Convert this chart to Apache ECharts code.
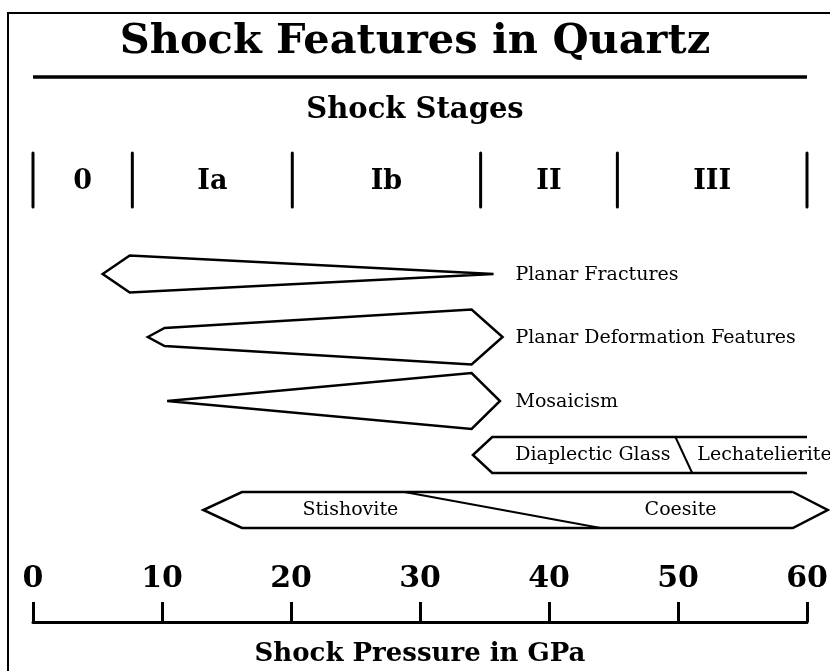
<!DOCTYPE html>
<html>
<head>
<meta charset="utf-8">
<script src="https://cdn.jsdelivr.net/npm/echarts@6/dist/echarts.min.js"></script>
<style>
  html, body { margin: 0; padding: 0; background: #fff; }
  #chart { width: 830px; height: 671px; }
</style>
</head>
<body>
<div id="chart"></div>
<script>
// pressure axis (GPa)
const pressureTicks = [0, 10, 20, 30, 40, 50, 60];

// shock stages and their boundaries (GPa)
const stageNames = ['0', 'Ia', 'Ib', 'II', 'III'];
const stageBounds = [0, 7.7, 20.1, 34.7, 45.3, 60];

// deformation features: start, full onset, full peak, end (GPa)
const featureNames = ['Planar Fractures', 'Planar Deformation Features', 'Mosaicism'];
const featureStart = [5.4, 8.9, 10.4];
const featureOnset = [7.5, 10.2, 10.4];
const featurePeak = [35.7, 34.0, 34.0];
const featureEnd = [35.7, 36.4, 36.2];

// phase transitions: start, onset, peak, end (GPa) and the changeover (top, bottom)
const glassPhases = ['Diaplectic Glass', 'Lechatelierite'];
const glassRange = [34.1, 35.6, 60, 60];
const glassSplit = [49.8, 51.1];
const highPressurePhases = ['Stishovite', 'Coesite'];
const highPressureRange = [13.2, 16.2, 58.9, 61.6];
const highPressureSplit = [28.8, 44.0];

// layout only (rows in px below the grid top, half heights in px)
const rowY = { stages: 30, features: [124, 187, 251], glass: 305, highPressure: 360 };
const featureHalfL = [18.5, 9, 0];
const featureHalfR = [0, 27.5, 28];
const bandHalf = 18;
const serif = "'DejaVu Serif', 'Liberation Serif', serif";

const chart = echarts.init(document.getElementById('chart'));

function pt(api, x, y, dy) {
  const p = api.coord([x, y]);
  return [p[0], p[1] + (dy || 0)];
}

function bandShape(api, range, split, y, closed) {
  const pts = [
    pt(api, range[2], y, -bandHalf),
    pt(api, range[1], y, -bandHalf),
    pt(api, range[0], y, 0),
    pt(api, range[1], y, bandHalf),
    pt(api, range[2], y, bandHalf)
  ];
  if (closed) pts.push(pt(api, range[3], y, 0), pt(api, range[2], y, -bandHalf));
  const a = pt(api, split[0], y, -bandHalf);
  const b = pt(api, split[1], y, bandHalf);
  return [
    { type: 'polyline', shape: { points: pts }, style: { stroke: '#000', lineWidth: 2.5, fill: null, lineJoin: 'miter' } },
    { type: 'line', shape: { x1: a[0], y1: a[1], x2: b[0], y2: b[1] }, style: { stroke: '#000', lineWidth: 2 } }
  ];
}

function label(text, p, align, size, weight) {
  return { type: 'text', style: { text: text, x: p[0], y: p[1], align: align, verticalAlign: 'middle', font: (weight || 'normal') + ' ' + size + 'px ' + serif, fill: '#000' } };
}

const option = {
  backgroundColor: '#fff',
  animation: false,
  grid: { left: 33, right: 23, top: 150, bottom: 49, outerBoundsMode: 'none', containLabel: false },
  xAxis: {
    type: 'value', min: 0, max: 60, interval: 10, position: 'bottom',
    name: 'Shock Pressure in GPa', nameLocation: 'middle', nameGap: 19,
    nameTextStyle: { color: '#000', fontFamily: serif, fontWeight: 'bold', fontSize: 26 },
    axisLine: { onZero: false, lineStyle: { color: '#000', width: 3, cap: 'round' } },
    axisTick: { inside: true, length: 20, lineStyle: { color: '#000', width: 3 } },
    axisLabel: {
      inside: true, margin: 28, color: '#000', fontFamily: serif, fontWeight: 'bold', fontSize: 30,
      formatter: v => pressureTicks.includes(v) ? String(v) : ''
    },
    splitLine: { show: false }
  },
  yAxis: { type: 'value', min: 0, max: 472, inverse: true, show: false },
  graphic: [
    { type: 'polyline', shape: { points: [[8, 671], [8, 13], [830, 13]] }, style: { stroke: '#000', lineWidth: 2, fill: null } },
    { type: 'text', x: 415, y: 42, style: { text: 'Shock Features in Quartz', align: 'center', verticalAlign: 'middle', font: 'bold 41.5px ' + serif, fill: '#000' } },
    { type: 'line', shape: { x1: 33, y1: 77, x2: 807, y2: 77 }, style: { stroke: '#000', lineWidth: 3.5 } },
    { type: 'text', x: 415, y: 110, style: { text: 'Shock Stages', align: 'center', verticalAlign: 'middle', font: 'bold 29px ' + serif, fill: '#000' } }
  ],
  series: [
    {
      // shock stage dividers and names
      type: 'custom',
      data: stageBounds.map((b, i) => [i]),
      renderItem: function (params, api) {
        const i = params.dataIndex;
        const children = [];
        const top = pt(api, stageBounds[i], rowY.stages, -27);
        const bot = pt(api, stageBounds[i], rowY.stages, 27);
        children.push({ type: 'line', shape: { x1: top[0], y1: top[1], x2: bot[0], y2: bot[1] }, style: { stroke: '#000', lineWidth: 3, lineCap: 'round' } });
        if (i < stageNames.length) {
          const mid = (stageBounds[i] + stageBounds[i + 1]) / 2;
          children.push(label(stageNames[i], pt(api, mid, rowY.stages, 2), 'center', 27, 'bold'));
        }
        return { type: 'group', children: children };
      }
    },
    {
      // deformation features
      type: 'custom',
      data: featureNames.map((n, i) => [i]),
      renderItem: function (params, api) {
        const i = params.dataIndex;
        const y = rowY.features[i];
        const pts = [
          pt(api, featureStart[i], y, 0),
          pt(api, featureOnset[i], y, -featureHalfL[i]),
          pt(api, featurePeak[i], y, -featureHalfR[i]),
          pt(api, featureEnd[i], y, 0),
          pt(api, featurePeak[i], y, featureHalfR[i]),
          pt(api, featureOnset[i], y, featureHalfL[i])
        ];
        return {
          type: 'group',
          children: [
            { type: 'polygon', shape: { points: pts }, style: { stroke: '#000', lineWidth: 2.5, fill: '#fff', lineJoin: 'miter' } },
            label(featureNames[i], pt(api, 37.4, y, 1), 'left', 19)
          ]
        };
      }
    },
    {
      // diaplectic glass -> lechatelierite
      type: 'custom',
      data: [[0]],
      renderItem: function (params, api) {
        const y = rowY.glass;
        const children = bandShape(api, glassRange, glassSplit, y, false);
        children.push(label(glassPhases[0], pt(api, (glassRange[1] + glassSplit[0]) / 2 + 0.7, y), 'center', 19));
        children.push(label(glassPhases[1], pt(api, glassSplit[1] + 0.4, y), 'left', 19));
        return { type: 'group', children: children };
      }
    },
    {
      // stishovite -> coesite
      type: 'custom',
      data: [[0]],
      renderItem: function (params, api) {
        const y = rowY.highPressure;
        const children = bandShape(api, highPressureRange, highPressureSplit, y, true);
        children.push(label(highPressurePhases[0], pt(api, 24.6, y), 'center', 19));
        children.push(label(highPressurePhases[1], pt(api, 50.2, y), 'center', 19));
        return { type: 'group', children: children };
      }
    }
  ]
};

chart.setOption(option);
</script>
</body>
</html>
